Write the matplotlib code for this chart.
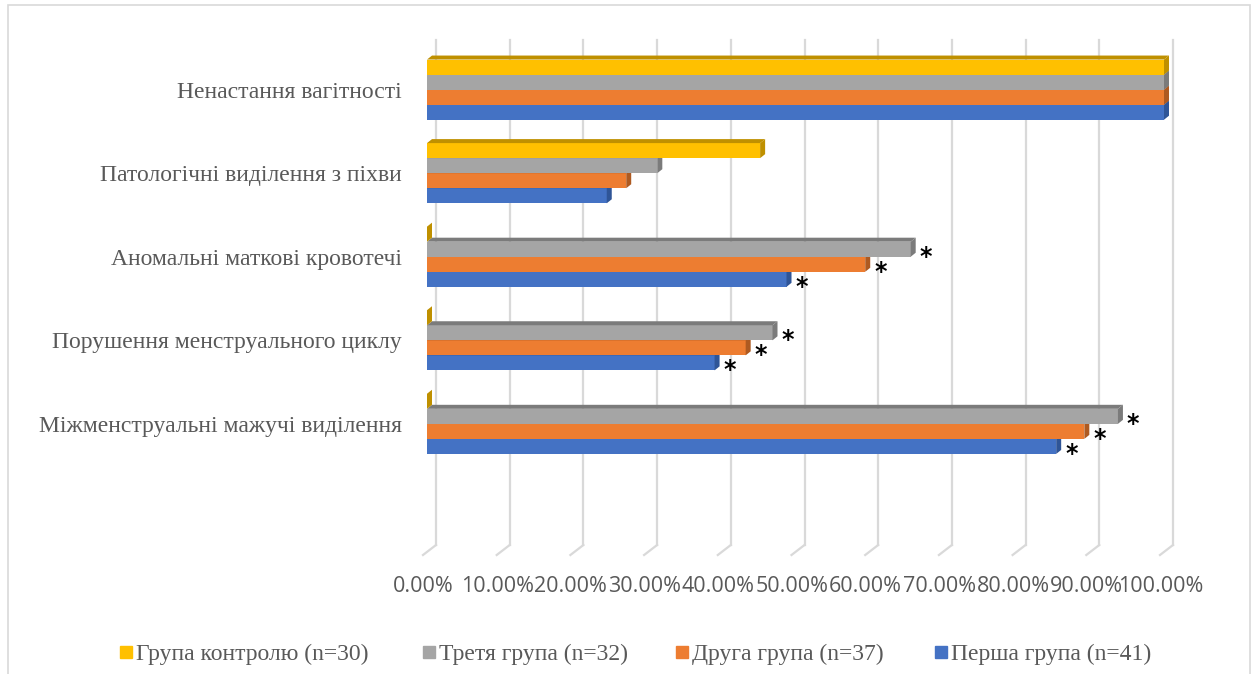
import numpy as np
import matplotlib.pyplot as plt
from matplotlib.patches import Polygon, Rectangle
from matplotlib.transforms import ScaledTranslation

categories = ["Міжменструальні мажучі виділення",
              "Порушення менструального циклу",
              "Аномальні маткові кровотечі",
              "Патологічні виділення з піхви",
              "Ненастання вагітності"]
control = [0, 0, 0, 45.2, 100]
third = [93.75, 46.88, 65.63, 31.25, 100]
second = [89.19, 43.24, 59.46, 27.03, 100]
first = [85.37, 39.02, 48.78, 24.39, 100]
star_third = [True, True, True, False, False]
star_second = [True, True, True, False, False]
star_first = [True, True, True, False, False]

series_names = ["Група контролю (n=30)", "Третя група (n=32)",
                "Друга група (n=37)", "Перша група (n=41)"]
front = ["#FFC000", "#A5A5A5", "#ED7D31", "#4472C4"]
side = ["#BF9000", "#7B7B7B", "#AE5A21", "#2F5597"]

W, H = 1256, 674
fig = plt.figure(figsize=(W / 100, H / 100), dpi=100)
ax = fig.add_axes([427 / W, 1 - 545 / H, 737 / W, 503 / H])
ax.set_xlim(0, 100)
ax.set_ylim(-1.45, 4.57)
for s in ax.spines.values():
    s.set_visible(False)

# pixel -> data sizes for the 3d depth
px_x = 737 / 100
px_y = 503 / 6.02
dx, dy = 5 / px_x, 4 / px_y
gx = 9 / px_x

grey = "#D9D9D9"
y = np.arange(len(categories))
lo, hi = ax.get_ylim()
for v in range(0, 101, 10):
    ax.plot([v + gx, v + gx], [lo, hi + 2 / px_y], color=grey, lw=1.6, zorder=0, clip_on=False)
    ax.plot([v + gx, v + gx - 13 / px_x], [lo, lo - 10 / px_y], color=grey, lw=1.6,
            zorder=0, clip_on=False)

h = 0.18
offs = [1.5 * h, 0.5 * h, -0.5 * h, -1.5 * h]
data = [control, third, second, first]
stars = [None, star_third, star_second, star_first]

# draw from the bottom bar of each group upward so fronts cover the depth faces
for k in [3, 2, 1, 0]:
    vals = data[k]
    yy = y + offs[k]
    z = 2 + (3 - k)
    ax.barh(yy, vals, height=h, color=front[k], zorder=z, clip_on=False)
    for yc, v in zip(yy, vals):
        t, b = yc + h / 2, yc - h / 2
        top = Polygon([(0, t), (v, t), (v + dx, t + dy), (dx, t + dy)], closed=True,
                      color=side[k], zorder=z, lw=0, clip_on=False)
        sd = Polygon([(v, b), (v, t), (v + dx, t + dy), (v + dx, b + dy)], closed=True,
                     color=side[k], zorder=z, lw=0, clip_on=False)
        ax.add_patch(top)
        ax.add_patch(sd)
    if stars[k] is not None:
        for yc, v, st in zip(yy, vals, stars[k]):
            if st:
                ax.annotate("*", (v, yc), xytext=(11, -10.5), textcoords="offset points",
                            ha="center", va="baseline", fontsize=17, color="black",
                            family="DejaVu Sans", fontweight="bold")

ax.set_yticks(y)
ax.set_yticklabels(categories, family="Liberation Serif", fontsize=17, color="#595959")
ax.tick_params(axis="y", length=0, pad=18)

ticks = np.arange(0, 101, 10)
ax.set_xticks(ticks)
ax.set_xticklabels([f"{v:.2f}%" for v in ticks], family="Open Sans", fontsize=15.5,
                   color="#595959")
ax.tick_params(axis="x", length=0, pad=22)
shift = ScaledTranslation(-3.5 / 100, 0, fig.dpi_scale_trans)
for lab in ax.get_xticklabels():
    lab.set_transform(lab.get_transform() + shift)

# legend entries along the bottom
leg_x = [120, 423, 676, 935]
leg_y = 1 - 654 / H
for lx, name, c in zip(leg_x, series_names, front):
    fig.add_artist(Rectangle((lx / W, 1 - 658 / H), 12 / W, 12 / H,
                             transform=fig.transFigure, color=c))
    fig.text((lx + 16) / W, leg_y, name, family="Liberation Serif", fontsize=17,
             color="#595959", ha="left", va="center")

fig.patches.append(Rectangle((8 / W, -0.05), 1242 / W, 1.05 - 5 / H, transform=fig.transFigure,
                             fill=False, edgecolor=grey, lw=1.2))

fig.savefig("out.png", dpi=100)
